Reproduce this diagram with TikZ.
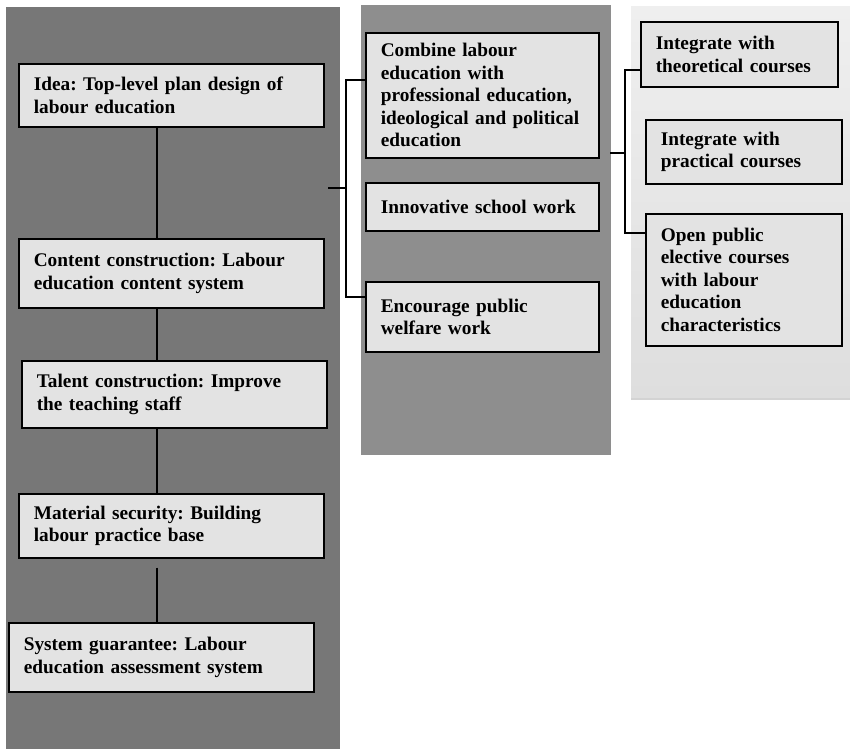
\documentclass[tikz,border=0pt]{standalone}
\usepackage{fontspec}
\setmainfont{Liberation Serif}
\usepackage{tikz}
\usetikzlibrary{calc,shadows}
\definecolor{leftgray}{HTML}{777777}
\definecolor{midgray}{HTML}{8E8E8E}
\definecolor{boxgray}{HTML}{E3E3E3}
\definecolor{paletop}{HTML}{EFEFEF}
\definecolor{palebot}{HTML}{DEDEDE}
\frenchspacing

\begin{document}
\begin{tikzpicture}[x=1pt,y=-1pt,
  box/.style={draw=black, line width=1.6pt, fill=boxgray, anchor=north west,
    align=left, inner xsep=15pt, inner ysep=4pt,
    font=\bfseries\fontsize{19.3}{22.5}\selectfont},
  leftbox/.style={box, text width=275pt},
  midbox/.style={box, text width=203pt},
  rightbox/.style={box, text width=166pt},
  link/.style={line width=1.3pt, black}]
\useasboundingbox (0,0) rectangle (850,749);
\fill[leftgray] (6,7) rectangle (340,749);
\fill[midgray] (361,5) rectangle (611,455);
\shade[top color=paletop, bottom color=palebot,
  drop shadow={shadow xshift=0pt, shadow yshift=-3pt, opacity=0.35}]
  (631,7) rectangle (850,397);
\node[leftbox, minimum height=63pt] (idea) at (18,63) {Idea: Top-level plan design of\\labour education};
\node[leftbox, minimum height=69pt] (content) at (18,238) {Content construction: Labour\\education content system};
\node[leftbox, minimum height=67pt] (talent) at (21,360) {Talent construction: Improve\\the teaching staff};
\node[leftbox, minimum height=64pt] (material) at (18,493) {Material security: Building\\labour practice base};
\node[leftbox, minimum height=69pt] (system) at (8,622) {System guarantee: Labour\\education assessment system};
\node[midbox, minimum height=125pt] (combine) at (365,32) {Combine labour\\education with\\professional education,\\ideological and political\\education};
\node[midbox, minimum height=48pt] (innovative) at (365,182) {Innovative school work};
\node[midbox, minimum height=70pt] (welfare) at (365,281) {Encourage public\\welfare work};
\node[rightbox, text width=167pt, minimum height=65pt] (theory) at (640,21) {Integrate with\\theoretical courses};
\node[rightbox, minimum height=64pt] (practice) at (645,119) {Integrate with\\practical courses};
\node[rightbox, minimum height=132pt] (elective) at (645,213) {Open public\\elective courses\\with labour\\education\\characteristics};
\coordinate (spine) at (157,0);
\draw[link] (idea.south -| spine) -- (content.north -| spine);
\draw[link] (content.south -| spine) -- (talent.north -| spine);
\draw[link] (talent.south -| spine) -- (material.north -| spine);
\draw[link, shorten <=9pt] (material.south -| spine) -- (system.north -| spine);
\coordinate (tickA) at (328,188);
\coordinate (forkA) at (346,188);
\draw[link] (tickA) -- (forkA);
\draw[link] (combine.west |- 0,80) -| (forkA) |- (welfare.west |- 0,297);
\coordinate (tickB) at (610,153);
\coordinate (forkB) at (625,153);
\draw[link] (tickB) -- (forkB);
\draw[link] (theory.west |- 0,70) -| (forkB) |- (elective.west |- 0,233);
\end{tikzpicture}
\end{document}
